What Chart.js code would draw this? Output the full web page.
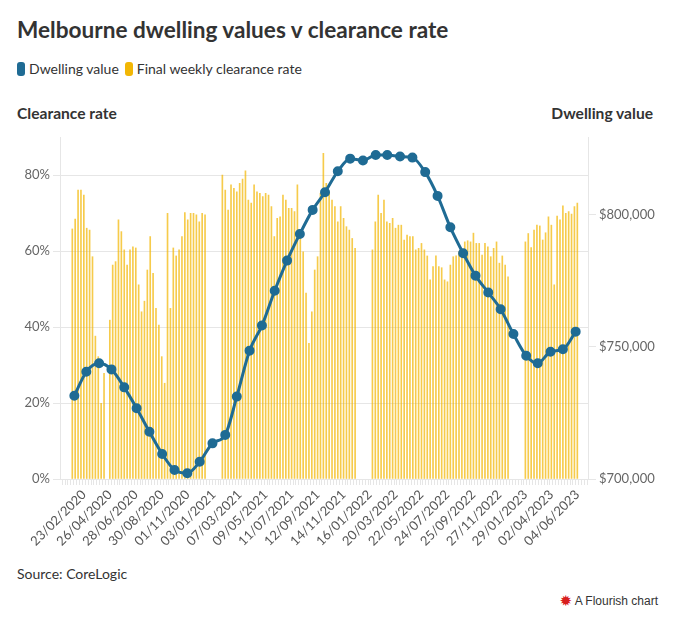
<!DOCTYPE html>
<html lang="en">
<head>
<meta charset="UTF-8">
<title>Melbourne dwelling values v clearance rate</title>
<script src="https://cdn.jsdelivr.net/npm/chart.js"></script>
<style>
  body { margin: 0; background: #fff; font-family: Lato, "Noto Sans", sans-serif; color: #333; }
  #wrap { position: relative; width: 677px; height: 624px; }
  .abs { position: absolute; white-space: nowrap; }
  #title { left: 17px; top: 16px; font-size: 22.6px; font-weight: 700; color: #333; }
  #legend { left: 17px; top: 60px; font-size: 14px; color: #333; }
  #legend span.sw { display: inline-block; width: 8px; height: 14px; border-radius: 3px; vertical-align: -2px; margin-right: 4px; }
  #legend span.item { margin-right: 6px; }
  .axtitle { top: 104px; font-size: 15.6px; font-weight: 700; color: #333; }
  #source { left: 17px; top: 565px; font-size: 14px; color: #333; }
  #flourish { right: 19px; top: 592px; font-size: 12px; color: #333; font-family: "Liberation Sans", Arial, sans-serif; }
  #flourish b { color: #d81e1e; font-weight: 400; font-size: 15px; vertical-align: -1px; font-family: "DejaVu Sans", sans-serif; }
  canvas { position: absolute; left: 0; top: 125px; }
</style>
</head>
<body>
<div id="wrap">
  <div id="title" class="abs">Melbourne dwelling values v clearance rate</div>
  <div id="legend" class="abs"><span class="item"><span class="sw" style="background:#1f6b94"></span>Dwelling value</span><span class="item"><span class="sw" style="background:#f2b705"></span>Final weekly clearance rate</span></div>
  <div class="abs axtitle" style="left:17px">Clearance rate</div>
  <div class="abs axtitle" style="right:24px">Dwelling value</div>
  <canvas id="chart" width="677" height="440"></canvas>
  <div id="source" class="abs">Source: CoreLogic</div>
  <div id="flourish" class="abs"><b>&#10041;</b> A Flourish chart</div>
</div>

<script>
// weekly clearance rate (%), one value per week starting at firstWeek, null = no result published
const firstWeek = '2020-01-26';
const clearanceRate = [
  65.8, 68.4, 76, 76, 74.7, 66, 65.5, 58.5, 37.6, 32.2,
  19.9, 27.8, null, 41.8, 56.3, 57.2, 68.2, 65.1, 60.3, 56.3,
  60.3, 61.1, 60.8, 51.1, 44, 46.8, 55, 63.8, 54.1, 44.9,
  40.5, 32.2, 25.2, 69.9, 44.9, 60.8, 58.7, 60.3, 63.8, 70.1,
  68.2, 69.9, 69.9, 69.5, 67.7, 69.9, 69.5,
  null, null, null, null, null,
  80, 76, 70.8, 77.4, 76.5, 75.6, 77.8, 78.9, 81.1, 73.4,
  72.6, 77.4, 75.6, 75.2, 74.3, 75.2, 74.7, 71.7, 63.8, 68.6,
  69, 74.7, 73.4, 71.2, 71.2, 70.4, 77.4, 65.5, 59.8, 48.9,
  35.7, 44, 55, 58.5, 75.2, 85.7, 77.8, 75.6, 73.4, 71.7,
  67.7, 71.7, 68.6, 66.4, 65.5, 63.3, 60.7,
  null, null, null, null, null,
  60.3, 67.7, 74.7, 69.9, 73.4, 67.7, 67.3, 68.6, 66, 66.8,
  66.8, 62.9, 64.2, 63.8, 63.8, 60.3, 60.7, 62, 60.3, 58.7,
  52.4, 55.9, 58.7, 55.9, 55.6, 52.4, 51.9, 56.3, 58.5, 58.7,
  59.8, 60.3, 62.4, 62.7, 62.4, 64.7, 62, 62, 58.9, 62,
  61.1, 58.5, 60.7, 62.4, 56.8, 58.7, 56.3, 53.2,
  null, null, null, null, null,
  62.4, 64.6, 60.9, 65.5, 66.8, 66.6, 62.9, 64.8, 69, 66.8,
  51.1, 69.2, 68.2, 71.9, 69.9, 70.4, 69.7, 71.7, 72.6
];

// monthly dwelling values (month-end), Jan 2020 to May 2023
const dwellingDates = [
  '2020-01-31', '2020-02-29', '2020-03-31', '2020-04-30', '2020-05-31', '2020-06-30',
  '2020-07-31', '2020-08-31', '2020-09-30', '2020-10-31', '2020-11-30', '2020-12-31',
  '2021-01-31', '2021-02-28', '2021-03-31', '2021-04-30', '2021-05-31', '2021-06-30',
  '2021-07-31', '2021-08-31', '2021-09-30', '2021-10-31', '2021-11-30', '2021-12-31',
  '2022-01-31', '2022-02-28', '2022-03-31', '2022-04-30', '2022-05-31', '2022-06-30',
  '2022-07-31', '2022-08-31', '2022-09-30', '2022-10-31', '2022-11-30', '2022-12-31',
  '2023-01-31', '2023-02-28', '2023-03-31', '2023-04-30', '2023-05-31'
];
const dwellingValue = [
  731500, 740600, 743800, 741500, 734700, 726800, 717900, 709500, 703400, 702200,
  706500, 713500, 716700, 731200, 748600, 758100, 771300, 782700, 792800, 801900,
  808600, 816500, 821300, 820600, 822700, 822700, 822100, 821700, 816200, 807200,
  795300, 785500, 777000, 770600, 764300, 754900, 746700, 743800, 748200, 749100,
  755800
];

// axis ticks
const tickLabels = [
  '23/02/2020', '26/04/2020', '28/06/2020', '30/08/2020', '01/11/2020', '03/01/2021',
  '07/03/2021', '09/05/2021', '11/07/2021', '12/09/2021', '14/11/2021', '16/01/2022',
  '20/03/2022', '22/05/2022', '24/07/2022', '25/09/2022', '27/11/2022', '29/01/2023',
  '02/04/2023', '04/06/2023'
];
const rateTicks = [0, 20, 40, 60, 80];
const valueTicks = [700000, 750000, 800000];

// positions on the x axis are counted in weeks from firstWeek
const DAY = 864e5;
const t0 = Date.parse(firstWeek + 'T00:00:00Z');
const weeksFromIso = s => (Date.parse(s + 'T00:00:00Z') - t0) / (7 * DAY);
const weeksFromDmy = s => { const [d, m, y] = s.split('/'); return weeksFromIso(`${y}-${m}-${d}`); };

const labelAt = {};
tickLabels.forEach(l => { labelAt[Math.round(weeksFromDmy(l))] = l; });

const barPoints = clearanceRate.map((v, i) => ({ x: i, y: v }));
const linePoints = dwellingValue.map((v, i) => ({ x: weeksFromIso(dwellingDates[i]), y: v }));

const grey = '#e6e6e6';
Chart.defaults.font.family = 'Lato, "Noto Sans", sans-serif';
Chart.defaults.font.size = 13;

new Chart(document.getElementById('chart'), {
  type: 'bar',
  data: {
    datasets: [
      {
        type: 'line',
        label: 'Dwelling value',
        data: linePoints,
        yAxisID: 'y1',
        borderColor: '#1f6b94',
        backgroundColor: '#1f6b94',
        borderWidth: 3,
        pointRadius: 3.5,
        pointHoverRadius: 3.5,
        cubicInterpolationMode: 'monotone',
        order: 0
      },
      {
        type: 'bar',
        label: 'Final weekly clearance rate',
        data: barPoints,
        yAxisID: 'y',
        backgroundColor: 'rgba(242,183,5,0.72)',
        barThickness: 1,
        order: 1
      }
    ]
  },
  options: {
    responsive: false,
    animation: false,
    layout: { padding: { top: 12, left: 0, right: 0, bottom: 0 } },
    plugins: { legend: { display: false }, tooltip: { enabled: false } },
    scales: {
      x: {
        type: 'linear',
        min: -4.26,
        max: 178.7,
        offset: false,
        afterBuildTicks: axis => {
          const t = [];
          for (let w = -4; w <= 178; w++) t.push({ value: w });
          axis.ticks = t;
        },
        afterFit: axis => { axis.height = 86; },
        grid: { drawOnChartArea: false, tickLength: 6, color: grey },
        border: { color: grey },
        ticks: {
          autoSkip: false,
          minRotation: 45,
          maxRotation: 45,
          padding: 2,
          color: '#555',
          callback: v => labelAt[v] || ''
        }
      },
      y: {
        position: 'left',
        min: 0,
        max: 90,
        afterBuildTicks: axis => { axis.ticks = rateTicks.map(v => ({ value: v })); },
        afterFit: axis => { axis.width = 60; },
        grid: { color: grey, tickLength: 7 },
        border: { color: grey },
        ticks: { padding: 3, color: '#666', callback: v => v + '%' }
      },
      y1: {
        position: 'right',
        min: 700000,
        max: 829500,
        afterBuildTicks: axis => { axis.ticks = valueTicks.map(v => ({ value: v })); },
        afterFit: axis => { axis.width = 89; },
        grid: { drawOnChartArea: false, color: grey, tickLength: 8 },
        border: { color: grey },
        ticks: { padding: 3, color: '#666', callback: v => '$' + v.toLocaleString('en-US') }
      }
    }
  }
});
</script>
</body>
</html>
